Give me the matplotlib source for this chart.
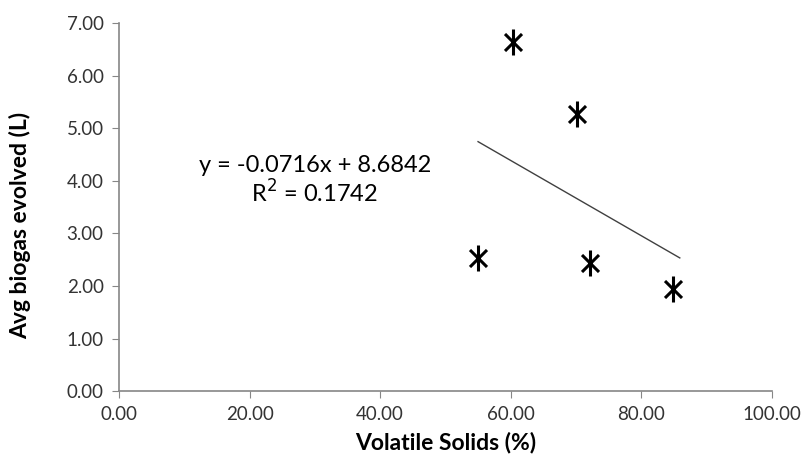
import numpy as np
import matplotlib.pyplot as plt

# Data
volatile_solids = [55.0, 60.3, 70.1, 72.2, 84.9]
avg_biogas = [2.53, 6.64, 5.28, 2.43, 1.94]
slope, intercept, r2 = -0.0716, 8.6842, 0.1742

plt.rcParams['font.family'] = ['Lato', 'DejaVu Sans']

fig = plt.figure(figsize=(8.04, 4.74), dpi=100)
ax = fig.add_axes([0.148, 0.175, 0.812, 0.776])

# Asterisk markers: X plus vertical bar
ax.scatter(volatile_solids, avg_biogas, marker='x', s=150, color='black', linewidths=2.2, zorder=3)
ax.scatter(volatile_solids, avg_biogas, marker='|', s=330, color='black', linewidths=2.2, zorder=3)

# Linear trend line
xt = np.array([min(volatile_solids), max(volatile_solids) + 1])
ax.plot(xt, slope * xt + intercept, color='#404040', linewidth=1.0)

ax.text(30, 4.30, f'y = {slope}x + {intercept}', ha='center', va='center', fontsize=17)
ax.text(30, 3.77, f'R$^2$ = {r2}', ha='center', va='center', fontsize=17)

ax.set_xlim(0, 100)
ax.set_ylim(0, 7)
ax.set_xticks(np.arange(0, 101, 20))
ax.set_yticks(np.arange(0, 7.1, 1))
ax.xaxis.set_major_formatter(plt.FormatStrFormatter('%.2f'))
ax.yaxis.set_major_formatter(plt.FormatStrFormatter('%.2f'))

for side in ['top', 'right']:
    ax.spines[side].set_visible(False)
for side in ['left', 'bottom']:
    ax.spines[side].set_color('#868686')
    ax.spines[side].set_linewidth(1.2)
ax.tick_params(direction='out', length=5, color='#868686', labelsize=13.5, labelcolor='#333333', pad=6)

ax.set_xlabel('Volatile Solids (%)', fontsize=16.5, fontweight='bold', labelpad=6)
ax.set_ylabel('Avg biogas evolved (L)', fontsize=16.5, fontweight='bold')
ax.yaxis.set_label_coords(-0.135, 0.45)

fig.savefig('out.png', dpi=100)
